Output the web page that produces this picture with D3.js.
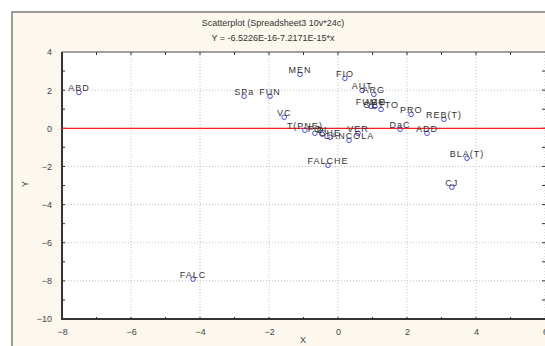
<!DOCTYPE html>
<html>
<head>
<meta charset="utf-8">
<script src="https://cdn.jsdelivr.net/npm/d3@7"></script>
<style>
  body { margin: 0; background: #fff; }
  text { font-family: Arial, "Liberation Sans", sans-serif; }
</style>
</head>
<body>
<div id="chart"></div>
<script>
// case labels and their coordinates
const labels = ['ABD', 'SPa', 'FUN', 'VC', 'MEN', 'FIO', 'AUT', 'ARG', 'FUMO', 'ACE', 'GETTO',
  'PRO', 'REB(T)', 'DaC', 'ADD', 'BLA(T)', 'CJ', 'FALCHE', 'FALC', 'VER', 'CANCOLA',
  'T(PNE)', 'FO', 'DI', 'CHE'];
const xs = [-7.51, -2.72, -1.97, -1.56, -1.10, 0.20, 0.70, 1.04, 0.96, 1.07, 1.25,
  2.12, 3.07, 1.80, 2.58, 3.74, 3.30, -0.29, -4.20, 0.58, 0.32,
  -0.96, -0.67, -0.46, -0.23];
const ys = [1.88, 1.68, 1.68, 0.58, 2.83, 2.62, 1.99, 1.78, 1.15, 1.15, 0.99,
  0.73, 0.47, -0.05, -0.26, -1.57, -3.09, -1.94, -7.91, -0.26, -0.63,
  -0.10, -0.26, -0.31, -0.47];

const xTicks = [-8, -6, -4, -2, 0, 2, 4, 6];
const yTicks = [4, 2, 0, -2, -4, -6, -8, -10];
// fitted line: Y = -6.5226E-16 - 7.2171E-15*x (basically zero)
const fitA = -6.5226e-16, fitB = -7.2171e-15;

const width = 545, height = 346;
const svg = d3.select('#chart').append('svg')
  .attr('width', width)
  .attr('height', height);

// window background
svg.append('rect').attr('x', 12).attr('y', 12).attr('width', width).attr('height', height)
  .attr('fill', '#fcf8ee').attr('stroke', '#9a9a9a').attr('stroke-width', 2);

const pLeft = 62, pRight = 545, pTop = 52, pBottom = 319;
const x = d3.scaleLinear().domain([-8, 6]).range([pLeft, pRight]);
const y = d3.scaleLinear().domain([-10, 4]).range([pBottom, pTop]);

svg.append('rect').attr('x', pLeft).attr('y', pTop)
  .attr('width', pRight - pLeft).attr('height', pBottom - pTop).attr('fill', '#fff');

// titles
svg.append('text').attr('x', 273).attr('y', 26).attr('text-anchor', 'middle')
  .style('font-size', '9px').attr('fill', '#333').text('Scatterplot (Spreadsheet3 10v*24c)');
svg.append('text').attr('x', 273).attr('y', 41).attr('text-anchor', 'middle')
  .style('font-size', '9px').attr('fill', '#333').text('Y = -6.5226E-16-7.2171E-15*x');

// grid
svg.append('g').selectAll('line').data(xTicks.slice(1)).join('line')
  .attr('x1', d => x(d)).attr('x2', d => x(d)).attr('y1', pTop).attr('y2', pBottom)
  .attr('stroke', '#c0c0c0').attr('stroke-dasharray', '1,2');
svg.append('g').selectAll('line').data(yTicks.slice(1, -1)).join('line')
  .attr('x1', pLeft).attr('x2', pRight).attr('y1', d => y(d)).attr('y2', d => y(d))
  .attr('stroke', '#c0c0c0').attr('stroke-dasharray', '1,2');

// axes
const xAxis = d3.axisBottom(x).tickValues(xTicks).tickSize(0).tickPadding(10).tickFormat(d3.format('d'));
const gx = svg.append('g').attr('transform', `translate(0,${pBottom})`).call(xAxis);
gx.select('.domain').remove();
gx.selectAll('text').style('font-size', '9px').attr('fill', '#444');

const yAxis = d3.axisLeft(y).tickValues(yTicks).tickSize(0).tickPadding(10).tickFormat(d3.format('d'));
const gy = svg.append('g').attr('transform', `translate(${pLeft},0)`).call(yAxis);
gy.select('.domain').remove();
gy.selectAll('text').style('font-size', '9px').attr('fill', '#444');

// minor ticks every unit
const xMinor = d3.range(-7, 6, 1);
const yMinor = d3.range(-9, 4, 1);
svg.append('g').selectAll('line').data(xMinor).join('line')
  .attr('x1', d => x(d)).attr('x2', d => x(d)).attr('y1', pBottom - 2).attr('y2', pBottom + 1)
  .attr('stroke', '#333');
svg.append('g').selectAll('line').data(xMinor).join('line')
  .attr('x1', d => x(d)).attr('x2', d => x(d)).attr('y1', pTop).attr('y2', pTop + 3)
  .attr('stroke', '#333');
svg.append('g').selectAll('line').data(yMinor).join('line')
  .attr('x1', pLeft).attr('x2', pLeft + 3).attr('y1', d => y(d)).attr('y2', d => y(d))
  .attr('stroke', '#333');
svg.append('g').selectAll('line').data(yMinor).join('line')
  .attr('x1', pRight - 3).attr('x2', pRight).attr('y1', d => y(d)).attr('y2', d => y(d))
  .attr('stroke', '#333');

// frame
svg.append('line').attr('x1', pLeft).attr('x2', pRight).attr('y1', pTop).attr('y2', pTop)
  .attr('stroke', '#444').attr('stroke-width', 1);
svg.append('line').attr('x1', pLeft).attr('x2', pRight).attr('y1', pBottom).attr('y2', pBottom)
  .attr('stroke', '#333').attr('stroke-width', 2);
svg.append('line').attr('x1', pLeft).attr('x2', pLeft).attr('y1', pTop).attr('y2', pBottom + 1)
  .attr('stroke', '#333').attr('stroke-width', 2);

// fit line
svg.append('line')
  .attr('x1', x(-8)).attr('x2', x(6))
  .attr('y1', y(fitA + fitB * -8)).attr('y2', y(fitA + fitB * 6))
  .attr('stroke', '#f52020').attr('stroke-width', 1.3);

// points
const pts = labels.map((l, i) => ({ l, x: xs[i], y: ys[i] }));
svg.append('g').selectAll('circle').data(pts).join('circle')
  .attr('cx', d => x(d.x)).attr('cy', d => y(d.y)).attr('r', 2.3)
  .attr('fill', 'none').attr('stroke', '#4848f0').attr('stroke-width', 1);
svg.append('g').selectAll('text').data(pts).join('text')
  .attr('x', d => x(d.x)).attr('y', d => y(d.y) - 1)
  .attr('text-anchor', 'middle')
  .style('font-size', '9px').style('letter-spacing', '1px')
  .attr('fill', '#333')
  .text(d => d.l);

// axis titles
svg.append('text').attr('transform', 'translate(28,184) rotate(-90)').attr('text-anchor', 'middle')
  .style('font-size', '9px').attr('fill', '#444').text('Y');
svg.append('text').attr('x', 303).attr('y', 343).attr('text-anchor', 'middle')
  .style('font-size', '9px').attr('fill', '#444').text('X');
</script>
</body>
</html>
